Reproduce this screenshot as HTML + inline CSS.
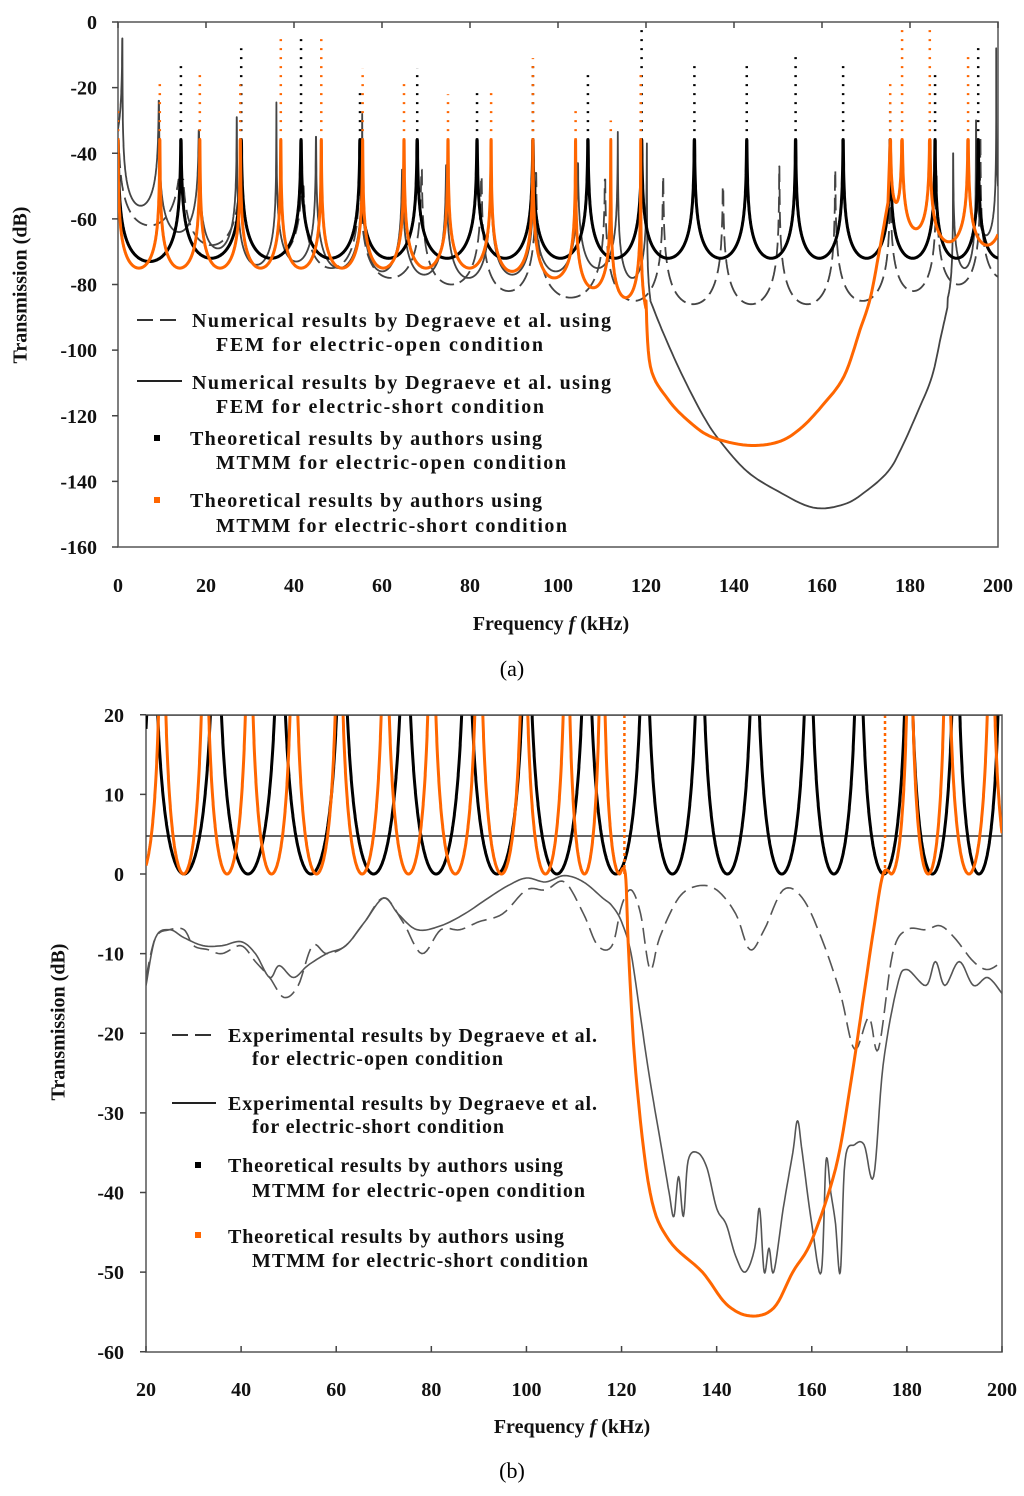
<!DOCTYPE html>
<html><head><meta charset="utf-8"><style>
html,body{margin:0;padding:0;background:#fff;}
svg{display:block;font-family:"Liberation Serif",serif;}
.t{font-size:20px;font-weight:bold;fill:#111;}
.lg{font-size:20px;font-weight:bold;fill:#111;}
</style></head><body>
<svg id="fig" width="1024" height="1496" viewBox="0 0 1024 1496">
<defs>
<clipPath id="clipA"><rect x="118" y="22" width="880" height="525"/></clipPath>
<clipPath id="clipB"><rect x="146" y="715" width="856" height="637"/></clipPath>
</defs>
<g id="chartA">
<rect x="118" y="22" width="880" height="525" fill="none" stroke="#555" stroke-width="1.5"/>
<g id="axesA"></g>
<g id="seriesA" clip-path="url(#clipA)"></g>
<text class="t" x="22" y="285" transform="rotate(-90 22 285)" text-anchor="middle" dominant-baseline="middle">Transmission (dB)</text>
<text class="t" x="551" y="630" text-anchor="middle">Frequency  <tspan font-style="italic">f</tspan> (kHz)</text>
<text x="512" y="676" text-anchor="middle" font-size="22">(a)</text>
<g>
<line x1="137" y1="320" x2="182" y2="320" stroke="#333" stroke-width="2" stroke-dasharray="16 7"/>
<text class="lg" x="192" y="327" textLength="419">Numerical results by Degraeve et al. using</text>
<text class="lg" x="216" y="351" textLength="327">FEM for electric-open condition</text>
<line x1="137" y1="381" x2="182" y2="381" stroke="#222" stroke-width="2"/>
<text class="lg" x="192" y="389" textLength="419">Numerical results by Degraeve et al. using</text>
<text class="lg" x="216" y="413" textLength="328">FEM for electric-short condition</text>
<rect x="154" y="435" width="6" height="6" fill="#000"/>
<text class="lg" x="190" y="445" textLength="352">Theoretical results by authors using</text>
<text class="lg" x="216" y="469" textLength="350">MTMM for electric-open condition</text>
<rect x="154" y="497" width="6" height="6" fill="#ff6600"/>
<text class="lg" x="190" y="507" textLength="352">Theoretical results by authors using</text>
<text class="lg" x="216" y="532" textLength="351">MTMM for electric-short condition</text>
</g>
</g>
<g id="chartB">
<rect x="146" y="715" width="856" height="637" fill="none" stroke="#555" stroke-width="1.5"/>
<line x1="146" y1="836" x2="1002" y2="836" stroke="#333" stroke-width="1.5"/>
<g id="axesB"></g>
<g id="seriesB" clip-path="url(#clipB)"></g>
<text class="t" x="60" y="1022" transform="rotate(-90 60 1022)" text-anchor="middle" dominant-baseline="middle">Transmission (dB)</text>
<text class="t" x="572" y="1433" text-anchor="middle">Frequency  <tspan font-style="italic">f</tspan> (kHz)</text>
<text x="512" y="1478" text-anchor="middle" font-size="22">(b)</text>
<g>
<line x1="172" y1="1035" x2="216" y2="1035" stroke="#333" stroke-width="2" stroke-dasharray="16 7"/>
<text class="lg" x="228" y="1042" textLength="369">Experimental results by Degraeve et al.</text>
<text class="lg" x="252" y="1065" textLength="251">for electric-open condition</text>
<line x1="172" y1="1103" x2="216" y2="1103" stroke="#222" stroke-width="2"/>
<text class="lg" x="228" y="1110" textLength="369">Experimental results by Degraeve et al.</text>
<text class="lg" x="252" y="1133" textLength="252">for electric-short condition</text>
<rect x="195" y="1162" width="6" height="6" fill="#000"/>
<text class="lg" x="228" y="1172" textLength="335">Theoretical results by authors using</text>
<text class="lg" x="252" y="1197" textLength="333">MTMM for electric-open condition</text>
<rect x="195" y="1232" width="6" height="6" fill="#ff6600"/>
<text class="lg" x="228" y="1243" textLength="336">Theoretical results by authors using</text>
<text class="lg" x="252" y="1267" textLength="336">MTMM for electric-short condition</text>
</g>
</g>
</svg>
<script>
// ---------- Chart (a) data ----------
const aXTicks=[0,20,40,60,80,100,120,140,160,180,200];
const aYTicks=[0,-20,-40,-60,-80,-100,-120,-140,-160];
const aBlackPeaks=[0,14.3,28,41.6,55,68,81.6,94.3,106.8,119,131,142.9,154,164.8,175.5,185.7,195.5];
const aBlackTops=[-30,-13,-8,-5,-21,-14,-20,-13,-16,-2,-13,-13,-9.5,-11.6,-25,-16,-7];
const aBlackMins=[-72,-73,-72,-72,-72,-72,-72,-72,-72,-72,-72,-72,-72,-72,-72,-72,-72,-72];
const aOrangePeaks1=[0,9.5,18.6,27.8,37,46.2,55.6,65,75,84.8,94.3,104,112,118.8];
const aOrangeTops1=[-25,-18,-15,-19,-4.5,-4,-14,-18.6,-22,-20.7,-11,-26,-30,-15];
const aOrangeMins1=[-75,-75,-75,-75,-75,-75,-75,-75,-75,-75,-76,-78,-81,-84,-92];
const aOrangeGapF=[120,121,125,130,135,143,150,155,160,165,168.6,171,173,175];
const aOrangeGapDb=[-85,-105,-115,-122,-126.5,-129,-128,-124,-117,-108,-94,-84,-70,-55];
const aOrangePeaks2=[175.5,178.2,184.5,193.2];
const aOrangeTops2=[-17,-2,-2,-8.6];
const aOrangeMins2=[-55,-55,-63,-67,-68];
const aGreyPeaks1=[1,9.3,18.4,27,36,45,55.5,64.6,74.6,84.7,94.5,104.5,113.6,120.2];
const aGreyTops1=[-5,-24,-33,-29,-24.5,-35,-28,-45,-43.6,-46,-45.6,-43,-33.5,-37];
const aGreyMins1=[-40,-56,-64,-69,-74,-73,-75,-76,-77,-78,-77,-76,-75,-78,-92];
const aGreyGapF=[121,124,128,133,137,143,150,158,165,170,175,178,182,185,187,188.5];
const aGreyGapDb=[-85,-95,-107,-120,-128,-137,-143,-148,-147,-143,-137,-130,-118,-108,-96,-87];
const aGreyPeaks2=[189.8,195,199.6];
const aGreyTops2=[-40,-30,-8];
const aGreyMins2=[-87,-75,-65,-60];
const aDashPeaks=[0,14.5,28,42,55,69,82.6,95,110.7,123.9,137.5,150.3,163,175.5,186,196];
const aDashTops=[-40,-48,-42,-50,-48,-45,-47,-46,-48,-47,-50,-44,-45,-45,-45,-35];
const aDashMins=[-60,-62,-68,-72,-75,-78,-80,-82,-84,-85,-86,-86,-86,-85,-82,-80,-78];
// ---------- Chart (b) data ----------
const bXTicks=[20,40,60,80,100,120,140,160,180,200];
const bYTicks=[20,10,0,-10,-20,-30,-40,-50,-60];
const bBlackPeaks=[21.3,34.7,48.2,61.2,74.5,87.5,100.1,112.7,124.9,136.5,148,159.4,169.9,180.4,190.3,200];
const bBlackTops=[40,40,40,40,40,40,40,40,40,40,40,40,40,40,40,40];
const bBlackMins=[0,0,0,0,0,0,0,0,0,0,0,0,0,0,0,0,0];
const bOrangePeaks1=[23.4,32.4,41.7,51.1,60.6,70.3,80.1,90,99.5,108.5,115.9];
const bOrangeTops1=[40,40,40,40,40,40,40,40,40,40,40];
const bOrangeMins1=[0,0,0,0,0,0,0,0,0,0,0,0];
const bOrangeGapF=[119.6,120.8,121.5,123,126,130,137,142,147,152,156,160,165,168,171,173,175,176.7];
const bOrangeGapDb=[0,0,-10,-25,-40,-46,-50,-54,-55.5,-54.5,-50,-46,-37,-27,-15,-7,0,0];
const bOrangePeaks2=[180.6,188.4,197.7];
const bOrangeTops2=[40,40,40];
const bOrangeMins2=[0,0,0,0];
const bOrangeSpikes=[120.6,175.4];
const bExpOpenF=[20,22,25,28,30,33,36,40,43,46,49,52,55,58,62,66,70,74,78,82,86,90,95,100,104,108,112,115,118,120,122,124,126,128,132,136,140,144,147,150,154,158,162,166,169,172,174,177,180,184,187,190,194,197,200];
const bExpOpenDb=[-13,-8,-7,-7,-9,-9.5,-10,-9,-11,-13,-15.5,-14,-9,-10,-9,-6,-3,-6,-10,-7,-7,-6,-5,-2,-2,-1,-5,-9,-9,-4,-2,-5,-12,-8,-3,-1.5,-2,-5,-9.5,-7,-2,-3,-8,-15,-22,-18,-22,-10,-7,-7,-6.5,-8,-11,-12,-11];
const bExpShortF=[20,22,25,28,32,36,40,43,46,48,51,54,58,62,66,70,73,77,82,87,92,96,100,104,108,112,116,118,120,122,124,126,128,130,131,132,133,134,136,138,140,142,144,146,148,149,150,151,152,154,156,157,158,160,162,163,164,165,166,167,169,171,173,175,178,180,184,186,188,191,194,197,200];
const bExpShortDb=[-14,-8,-7,-8,-9,-9,-8.5,-10,-13,-11.5,-13,-11.5,-10,-9,-6,-3,-5,-7,-6.5,-5,-3,-1.5,-0.5,-1,-0.2,-1,-3,-4,-6,-10,-18,-26,-33,-40,-43,-38,-43,-36,-35,-37,-42,-44,-48,-50,-47,-42,-50,-47,-50,-42,-35,-31,-35,-44,-50,-36,-40,-44,-50,-36,-34,-34,-38,-24,-14,-12,-14,-11,-14,-11,-14,-13,-15];

const NS='http://www.w3.org/2000/svg';
const xA=f=>118+f*4.4, yA=d=>22-d*(525/160);
const xB=f=>146+(f-20)*(856/180), yB=d=>874-d*(637/80);

function reson(f,P,T,M,K){
  let i=-1; for(let k=0;k<P.length;k++){ if(P[k]<=f) i=k; }
  let L,R,m,near;
  if(i<0){R=P[0];L=P[0]-(P.length>1?P[1]-P[0]:8);m=M[0];near=0;}
  else if(i>=P.length-1){L=P[P.length-1];R=L+(P.length>1?L-P[P.length-2]:8);m=M[M.length-1];near=P.length-1;}
  else {L=P[i];R=P[i+1];m=M[i+1];near=(f-L<R-f)?i:i+1;}
  const d=Math.max(f-L,1e-4), e=Math.max(R-f,1e-4), s=R-L;
  const v=m+K*Math.log10(s*s/4/(d*e));
  return Math.min(v,T[near]);
}
function resPts(f0,f1,P,T,M,K,cap,X,Y){
  const pts=[];
  for(let f=f0;f<=f1+1e-9;f+=0.02){ pts.push([X(f),Y(Math.min(reson(f,P,T,M,K),cap))]); }
  return pts;
}
// Catmull-Rom smoothing of data points
function smoothPts(F,D,X,Y){
  const P=F.map((f,i)=>[X(f),Y(D[i])]); const out=[];
  for(let i=0;i<P.length-1;i++){
    const p0=P[Math.max(i-1,0)],p1=P[i],p2=P[i+1],p3=P[Math.min(i+2,P.length-1)];
    for(let t=0;t<1;t+=0.125){
      const t2=t*t,t3=t2*t;
      const c=(a,b,cc,d)=>0.5*(2*b+(-a+cc)*t+(2*a-5*b+4*cc-d)*t2+(-a+3*b-3*cc+d)*t3);
      out.push([c(p0[0],p1[0],p2[0],p3[0]),c(p0[1],p1[1],p2[1],p3[1])]);
    }
  }
  out.push(P[P.length-1]); return out;
}
function poly(parent,pts,stroke,width,dash,name){
  const el=document.createElementNS(NS,'polyline');
  el.setAttribute('points',pts.map(p=>p[0].toFixed(1)+','+p[1].toFixed(1)).join(' '));
  el.setAttribute('fill','none');el.setAttribute('stroke',stroke);el.setAttribute('stroke-width',width);
  el.setAttribute('stroke-linejoin','round');
  if(dash) el.setAttribute('stroke-dasharray',dash);
  
  
  parent.appendChild(el);
  return el;
}
function line(parent,x1,y1,x2,y2,stroke,w,dash,name){
  const el=document.createElementNS(NS,'line');
  el.setAttribute('x1',x1);el.setAttribute('y1',y1);el.setAttribute('x2',x2);el.setAttribute('y2',y2);
  el.setAttribute('stroke',stroke);el.setAttribute('stroke-width',w);
  if(dash) el.setAttribute('stroke-dasharray',dash);
  
  
  parent.appendChild(el);
}
function text(parent,x,y,s,anchor,name){
  const el=document.createElementNS(NS,'text');
  el.setAttribute('x',x);el.setAttribute('y',y);el.setAttribute('text-anchor',anchor);
  el.setAttribute('class','t');el.textContent=s;
  
  
  parent.appendChild(el);
}
function spikes(parent,P,T,cap,X,Y,color,name){
  P.forEach((p,i)=>{ if(T[i]>cap) line(parent,X(p),Y(cap),X(p),Y(T[i]),color,2.5,'2 7',name); });
}

// axes A
const gA=document.getElementById('axesA');
aYTicks.forEach(v=>{ line(gA,112,yA(v),118,yA(v),'#444',1.5,null,'y-tick-a'); text(gA,97,yA(v)+7,String(v),'end','y-tick-label-a'); });
aXTicks.forEach(v=>{ line(gA,xA(v),22,xA(v),28,'#444',1.5,null,'x-tick-a'); text(gA,xA(v),592,String(v),'middle','x-tick-label-a'); });
// series A
const sA=document.getElementById('seriesA');
const capA=-36;
poly(sA,resPts(0,200,aDashPeaks,aDashTops,aDashMins,20,0,xA,yA),'#444',1.8,'16 7','series-fem-open');
poly(sA,resPts(0,121,aGreyPeaks1,aGreyTops1,aGreyMins1,20,0,xA,yA).concat(smoothPts(aGreyGapF,aGreyGapDb,xA,yA)).concat(resPts(188.6,200,aGreyPeaks2,aGreyTops2,aGreyMins2,20,0,xA,yA)),'#444',1.8,null,'series-fem-short');
poly(sA,resPts(0,200,aBlackPeaks,aBlackTops,aBlackMins,20,capA,xA,yA),'#000',3,null,'series-mtmm-open');
spikes(sA,aBlackPeaks,aBlackTops,capA,xA,yA,'#000','series-mtmm-open-peak');
poly(sA,resPts(0,120,aOrangePeaks1,aOrangeTops1,aOrangeMins1,20,capA,xA,yA).concat(smoothPts(aOrangeGapF,aOrangeGapDb,xA,yA)).concat(resPts(175.5,200,aOrangePeaks2,aOrangeTops2,aOrangeMins2,20,capA,xA,yA)),'#ff6600',3,null,'series-mtmm-short');
spikes(sA,aOrangePeaks1,aOrangeTops1,capA,xA,yA,'#ff6600','series-mtmm-short-peak');
spikes(sA,aOrangePeaks2,aOrangeTops2,capA,xA,yA,'#ff6600','series-mtmm-short-peak');

// axes B
const gB=document.getElementById('axesB');
bYTicks.forEach(v=>{ line(gB,140,yB(v),146,yB(v),'#444',1.5,null,'y-tick-b'); text(gB,124,yB(v)+7,String(v),'end','y-tick-label-b'); });
bXTicks.forEach(v=>{ line(gB,xB(v),1346,xB(v),1352,'#444',1.5,null,'x-tick-b'); text(gB,xB(v),1396,String(v),'middle','x-tick-label-b'); });
// series B
const sB=document.getElementById('seriesB');
poly(sB,smoothPts(bExpOpenF,bExpOpenDb,xB,yB),'#555',1.6,'16 7','series-exp-open');
poly(sB,smoothPts(bExpShortF,bExpShortDb,xB,yB),'#555',1.6,null,'series-exp-short');
poly(sB,resPts(20,200,bBlackPeaks,bBlackTops,bBlackMins,40,40,xB,yB),'#000',3,null,'series-mtmm-open-b');
poly(sB,resPts(20,119.6,bOrangePeaks1,bOrangeTops1,bOrangeMins1,40,40,xB,yB).concat(smoothPts(bOrangeGapF,bOrangeGapDb,xB,yB)).concat(resPts(176.7,200,bOrangePeaks2,bOrangeTops2,bOrangeMins2,40,40,xB,yB)),'#ff6600',3,null,'series-mtmm-short-b');
bOrangeSpikes.forEach(f=>line(sB,xB(f),yB(0),xB(f),yB(20),'#ff6600',2.5,'3 3','series-mtmm-short-b-spike'));
line(sB,146,715,1002,715,'#444',1.5,null,'top-line-20db');
</script>
</body></html>
